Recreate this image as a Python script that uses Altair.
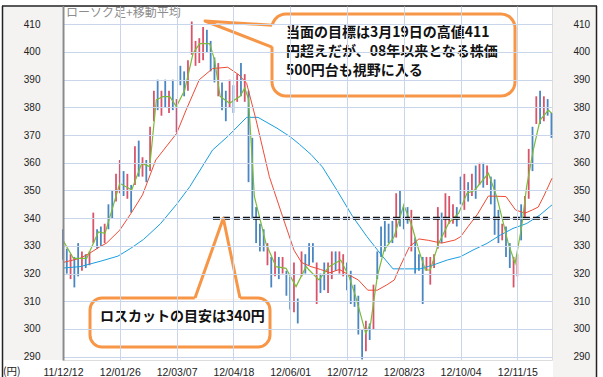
import altair as alt
import pandas as pd

# ---------------- data ----------------
tick_pos = [0, 30, 60, 90, 120, 150, 180, 210, 240]
tick_labels = ["11/12/12", "12/01/26", "12/03/07", "12/04/18", "12/06/01",
               "12/07/12", "12/08/23", "12/10/04", "12/11/15"]
price_ticks = [290, 300, 310, 320, 330, 340, 350, 360, 370, 380, 390, 400, 410]

bar_i = list(range(0, 259, 2))
bar_hi = [336, 329, 327, 326, 331, 328, 327, 328, 342, 336,
          337, 338, 345, 350, 356, 361, 357, 356, 352, 366,
          368, 362, 361, 373, 386, 390, 386, 390, 386, 390,
          383, 395, 393, 397, 411, 404, 405, 409, 408, 404,
          398, 396, 389, 386, 390, 388, 392, 396, 392, 386,
          369, 344, 338, 336, 331, 326, 328, 326, 326, 321,
          319, 324, 311, 328, 327, 331, 331, 324, 320, 324,
          324, 328, 328, 328, 327, 324, 321, 316, 312, 300,
          303, 302, 316, 328, 337, 339, 338, 339, 349, 350,
          344, 344, 343, 333, 327, 326, 326, 326, 327, 344,
          342, 349, 348, 345, 344, 355, 356, 353, 356, 359,
          360, 360, 359, 355, 354, 343, 338, 337, 331, 326,
          327, 345, 348, 365, 373, 384, 386, 384, 383, 378]
bar_lo = [325, 320, 318, 315, 319, 321, 322, 323, 331, 329,
          330, 331, 336, 340, 346, 349, 348, 347, 342, 352,
          355, 355, 353, 357, 375, 379, 377, 380, 378, 379,
          371, 388, 384, 386, 399, 395, 396, 397, 400, 393,
          389, 384, 379, 375, 380, 378, 382, 384, 382, 353,
          340, 331, 328, 328, 323, 315, 319, 318, 320, 312,
          307, 306, 302, 319, 320, 323, 324, 309, 313, 314,
          313, 318, 321, 320, 319, 314, 309, 308, 298, 289,
          292, 296, 300, 318, 326, 328, 331, 331, 333, 337,
          336, 338, 328, 320, 321, 309, 321, 316, 322, 329,
          331, 333, 338, 338, 337, 345, 343, 346, 348, 347,
          352, 351, 352, 345, 334, 331, 332, 326, 322, 315,
          319, 332, 340, 347, 357, 374, 374, 375, 377, 369]
bar_up = [0, 0, 1, 0, 0, 1, 0, 1, 1, 0,
          0, 1, 0, 0, 1, 1, 0, 1, 0, 1,
          0, 1, 0, 1, 1, 0, 1, 0, 1, 0,
          1, 0, 0, 1, 1, 1, 1, 1, 0, 0,
          0, 1, 0, 0, 1, 0, 1, 0, 1, 0,
          0, 0, 0, 0, 1, 0, 1, 0, 1, 0,
          0, 1, 0, 1, 0, 0, 0, 1, 0, 0,
          1, 1, 0, 1, 1, 0, 0, 0, 0, 0,
          1, 0, 1, 0, 0, 0, 0, 0, 1, 0,
          0, 0, 1, 0, 0, 0, 1, 1, 1, 1,
          0, 1, 1, 1, 0, 0, 1, 0, 1, 0,
          1, 0, 1, 0, 0, 0, 1, 0, 0, 1,
          1, 0, 1, 1, 0, 1, 0, 1, 0, 0]

ma_short_i = [0, 5.5, 12.5, 18.7, 22.2, 30, 36.3, 41.6, 45.8, 49.3, 52.8, 56.4,
              59.9, 64.3, 68.7, 72.2, 77.5, 80.1, 83, 88, 93.5, 96, 98, 101.1,
              104.6, 107.2, 112.5, 117.8, 123.1, 128.4, 130, 135.2, 140.5, 146.7,
              151.1, 154.6, 159.9, 162.5, 166, 169.6, 174.9, 180, 184.4, 187.9,
              191.4, 194, 198.4, 203.7, 209, 213.4, 217.3, 224.7, 229.1, 232.6,
              235.2, 238.8, 242.3, 244.9, 248.4, 252, 256.4, 258.1]
ma_short_v = [332, 325.5, 325.5, 335, 334.5, 352.6, 350.2, 359.8, 358.6, 382.7, 383.9, 383.9,
              380.3, 386.3, 399.5, 403, 403, 397, 384, 381.5, 384, 387, 383, 347.8,
              338.2, 330.9, 322.5, 321.9, 315.3, 322.5, 321.3, 317.7, 322.5, 324.9,
              318.9, 311.7, 298.4, 302, 318.9, 328.5, 333.3, 344.8, 337, 328.5,
              321.3, 321.3, 330.9, 338.2, 341.8, 349, 350, 356.2, 347.8, 338.2,
              330.9, 323.7, 337, 351.4, 364.6, 375.4, 379, 377.9]

ma_mid_i = [0, 9, 14, 19.5, 23, 30, 36, 42, 49, 60, 65, 72, 79, 87, 93, 97, 102,
            109, 116, 122, 126, 131, 136, 141, 146, 151, 156, 161, 166, 171, 175,
            178, 183, 188, 193, 200, 207, 210, 214, 219, 224.7, 234, 239, 244,
            248, 251, 254, 258.3]
ma_mid_v = [324, 325.5, 327.3, 329.7, 331, 335.7, 341.8, 348.4, 361, 370.6, 379,
            390, 394, 394.5, 391.7, 388.7, 375.4, 355, 340.6, 328.5, 324, 322.5,
            321.5, 320.3, 321.5, 319.5, 317.7, 314, 314, 315.9, 317.7, 322.5, 329.7,
            332.5, 332, 331, 332.1, 333.3, 337, 341.5, 348, 347.8, 343, 341.8, 343,
            344, 348, 354.4]

ma_long_i = [0, 9, 20, 29, 35.5, 42.5, 51.5, 60, 67, 79, 87, 97, 103, 113, 120,
             125, 131, 137, 144.6, 153, 160.6, 167.5, 174.3, 188.6, 195.5, 203,
             210, 216.6, 224, 231, 237.7, 245, 252, 258.3]
ma_long_v = [322, 322.5, 324.5, 326.3, 329, 332.3, 338, 345, 351.4, 364.6, 369.5,
             376.4, 376.4, 372.5, 369.4, 366.6, 363, 358.5, 350.2, 340.6, 333.3,
             327.3, 321.7, 321.7, 323.1, 324.9, 326.1, 328.5, 330.9, 333.9, 336.3,
             338.1, 341.2, 344.8]

stop_level = 340
stop_from, stop_to = 79.2, 256.2

title_text = "ローソク足+移動平均"
unit_text = "(円)"
note1_lines = ["当面の目標は3月19日の高値411", "円超えだが、08年以来となる株価", "500円台も視野に入る"]
note2_text = "ロスカットの目安は340円"

# ---------------- layout ----------------
W, H = 489, 354
X0, Y0 = 63, 6
XMAX = 258.3
YMIN, YMAX = 288.8, 416.6

def to_i(px):
    return (px - X0) / W * XMAX

def to_p(py):
    return YMAX - (py - Y0) / H * (YMAX - YMIN)

GRID = "#c9d5ea"
ORANGE = "#f79646"
PANEL = "#f4f3f1"
CJK = "Noto Sans CJK JP"

xsc = alt.Scale(domain=[0, XMAX], nice=False, zero=False)
ysc = alt.Scale(domain=[YMIN, YMAX], nice=False, zero=False)
label_expr = "[" + ",".join("'%s'" % t for t in tick_labels) + "][round(datum.value/30)]"
xaxis = alt.Axis(values=tick_pos, labelExpr=label_expr, grid=True, gridColor=GRID,
                 gridWidth=1, domain=False, ticks=False, tickSize=0, labelPadding=7,
                 labelFontSize=10.5, labelFont="Liberation Sans", labelColor="#222",
                 labelOverlap=False, labelFlush=False, title=None, zindex=1)

def X(field="i"):
    return alt.X(field + ":Q", scale=xsc, axis=xaxis)

one = pd.DataFrame({"a": [0]})

def rect(x1, x2, y1, y2, **kw):
    return alt.Chart(one).mark_rect(**kw).encode(
        x=alt.value(x1 - X0), x2=alt.value(x2 - X0),
        y=alt.value(y1 - Y0), y2=alt.value(y2 - Y0))

def rule(x1, y1, x2, y2, **kw):
    return alt.Chart(one).mark_rule(**kw).encode(
        x=alt.value(x1 - X0), x2=alt.value(x2 - X0),
        y=alt.value(y1 - Y0), y2=alt.value(y2 - Y0))

def text(s, x, y, **kw):
    return alt.Chart(one).mark_text(**kw).encode(
        x=alt.value(x - X0), y=alt.value(y - Y0), text=alt.value(s))

layers = []
# side panels and frame
layers.append(rect(3, 62, 7, 360, fill=PANEL, strokeWidth=0))
layers.append(rect(553, 596, 7, 377, fill=PANEL, strokeWidth=0))
layers.append(rule(2, 6, 597, 6, color="#222", strokeWidth=1.5))
layers.append(rule(2.5, 6, 2.5, 377, color="#222", strokeWidth=1.5))
layers.append(rule(596.5, 6, 596.5, 377, color="#222", strokeWidth=1.5))

# candles
cdf = pd.DataFrame({"i": bar_i, "hi": bar_hi, "lo": bar_lo,
                    "dir": ["up" if u else "down" for u in bar_up]})
layers.append(alt.Chart(cdf).mark_rule(strokeWidth=1.8).encode(
    x=X(), y=alt.Y("lo:Q", scale=ysc, axis=None), y2="hi:Q",
    color=alt.Color("dir:N", scale=alt.Scale(domain=["up", "down"],
                                             range=["#d9546a", "#4a86c2"]), legend=None)))

# moving averages
long_df = pd.DataFrame({"i": ma_long_i, "p": ma_long_v})
mid_df = pd.DataFrame({"i": ma_mid_i, "p": ma_mid_v})
short_df = pd.DataFrame({"i": ma_short_i, "p": ma_short_v})

left_axis = alt.Axis(orient="left", values=price_ticks, grid=True, gridColor=GRID, gridWidth=1,
                     domain=True, domainColor="#8a8a8a", domainWidth=2, ticks=False, tickSize=0,
                     labelPadding=23, labelFontSize=10, labelFont="Liberation Sans",
                     labelColor="#222", title=None, zindex=1)
right_axis = alt.Axis(orient="right", values=price_ticks, grid=False, domain=False, ticks=False,
                      tickSize=0, labelPadding=21, labelAlign="left", labelFontSize=10,
                      labelFont="Liberation Sans", labelColor="#222", title=None, zindex=1)

layers.append(alt.Chart(long_df).mark_line(color="#1a9ee0", strokeWidth=1).encode(
    x=X(), y=alt.Y("p:Q", scale=ysc, axis=None)))
layers.append(alt.Chart(mid_df).mark_line(color="#ee4b35", strokeWidth=1).encode(
    x=X(), y=alt.Y("p:Q", scale=ysc, axis=right_axis)))
layers.append(alt.Chart(short_df).mark_line(color="#7cbb3a", strokeWidth=1.2).encode(
    x=X(), y=alt.Y("p:Q", scale=ysc, axis=left_axis)))

# stop-loss dashed line
sdf = pd.DataFrame({"i": [stop_from, stop_to], "p": [stop_level, stop_level]})
layers.append(alt.Chart(sdf).mark_line(color="#111", strokeWidth=3, strokeDash=[7, 3]).encode(
    x=X(), y=alt.Y("p:Q", scale=ysc, axis=None)))

# callout 1 (upper)
layers.append(rect(272, 515, 14, 96, fill="white", stroke=ORANGE, strokeWidth=3, cornerRadius=14))
p1 = pd.DataFrame({"i": [to_i(205), to_i(274)], "p": [to_p(21), to_p(25.3)],
                   "p2": [to_p(21), to_p(47)]})
layers.append(alt.Chart(p1).mark_area(color="white", opacity=1).encode(
    x=X(), y=alt.Y("p:Q", scale=ysc, axis=None), y2="p2:Q"))
p1l = pd.DataFrame({"i": [to_i(272), to_i(205), to_i(272)],
                    "p": [to_p(25.2), to_p(21), to_p(47.2)], "k": [0, 1, 2]})
layers.append(alt.Chart(p1l).mark_line(color=ORANGE, strokeWidth=3, strokeJoin="round").encode(
    x=X(), y=alt.Y("p:Q", scale=ysc, axis=None), order="k:Q"))
for k, s in enumerate(note1_lines):
    layers.append(text(s, 286, 33 + 19 * k, align="left", baseline="middle", font=CJK,
                       fontWeight="bold", fontSize=14, color="#111"))

# callout 2 (lower)
layers.append(rect(90, 270, 298, 347, fill="white", stroke=ORANGE, strokeWidth=3, cornerRadius=12))
p2 = pd.DataFrame({"p": [to_p(218.3), to_p(299.8)], "i": [to_i(223.3), to_i(194.4)],
                   "i2": [to_i(223.3), to_i(240.4)]})
layers.append(alt.Chart(p2).mark_area(color="white", opacity=1, orient="horizontal").encode(
    x=X(), x2="i2:Q", y=alt.Y("p:Q", scale=ysc, axis=None)))
p2l = pd.DataFrame({"i": [to_i(195), to_i(223.3), to_i(240)],
                    "p": [to_p(298), to_p(218.3), to_p(298)], "k": [0, 1, 2]})
layers.append(alt.Chart(p2l).mark_line(color=ORANGE, strokeWidth=3, strokeJoin="round").encode(
    x=X(), y=alt.Y("p:Q", scale=ysc, axis=None), order="k:Q"))
layers.append(text(note2_text, 100, 317, align="left", baseline="middle", font=CJK,
                   fontWeight="bold", fontSize=14, color="#111"))

# titles
layers.append(text(title_text, 66, 12.5, align="left", baseline="middle", font=CJK,
                   fontSize=12, color="#8c8c8c"))
layers.append(text(unit_text, 3, 372, align="left", baseline="middle", font=CJK,
                   fontSize=10.5, color="#222"))

chart = alt.layer(*layers).resolve_axis(y="independent").properties(
    width=W, height=H,
    autosize=alt.AutoSizeParams(type="none"),
    padding={"left": X0, "top": Y0, "right": 603 - X0 - W, "bottom": 377 - Y0 - H},
).configure_view(strokeWidth=0).configure(background="white")

chart.save("out.html", embed_options={"renderer": "svg", "actions": False})
